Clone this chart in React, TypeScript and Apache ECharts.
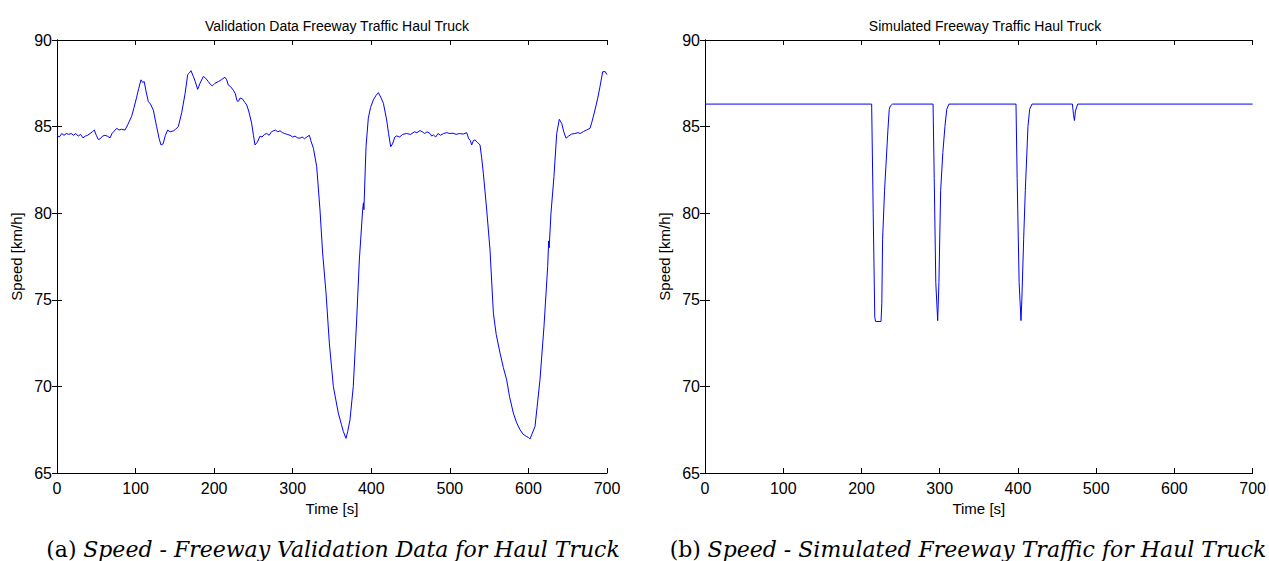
import React, { useEffect, useRef } from "react";
import * as echarts from "echarts";

const xTicks = [0, 100, 200, 300, 400, 500, 600, 700];
const yTicks = [65, 70, 75, 80, 85, 90];

const leftTitle = "Validation Data Freeway Traffic Haul Truck";
const rightTitle = "Simulated Freeway Traffic Haul Truck";
const xName = "Time [s]";
const yName = "Speed [km/h]";
const captionA = ["(a)", "Speed - Freeway Validation Data for Haul Truck"];
const captionB = ["(b)", "Speed - Simulated Freeway Traffic for Haul Truck"];

// Validation data [time s, speed km/h]
const validation: [number, number][] = [
  [0, 84.5], [3, 84.4], [6, 84.6], [9, 84.5], [12, 84.6], [15, 84.55], [18, 84.6], [21, 84.5],
  [24, 84.6], [27, 84.45], [30, 84.55], [33, 84.35], [36, 84.45], [39, 84.5], [42, 84.6], [45, 84.7],
  [47.5, 84.8], [50, 84.5], [52.6, 84.25], [55, 84.3], [58, 84.45], [61, 84.5], [64, 84.45],
  [67.5, 84.35], [70, 84.6], [73, 84.75], [76, 84.9], [79, 84.8], [82, 84.85], [86.5, 84.8],
  [90, 85.1], [95, 85.6], [98, 86.1], [101.4, 86.7], [104, 87.2], [106.9, 87.7], [109, 87.55],
  [111, 87.6], [113.5, 87.0], [116.2, 86.45], [119, 86.3], [122.6, 85.95], [126.8, 85.0],
  [130, 84.3], [132.4, 83.94], [135, 84.0], [138, 84.5], [140.8, 84.8], [144, 84.7], [148, 84.75],
  [151, 84.85], [154.4, 85.0], [158.7, 85.8], [163, 86.9], [166.3, 88.0], [168.5, 88.1],
  [170.5, 88.23], [173.5, 87.9], [176, 87.6], [179, 87.15], [182, 87.5], [186.3, 87.9], [189, 87.8],
  [192.6, 87.6], [195, 87.45], [197.7, 87.35], [201, 87.5], [205.3, 87.6], [209, 87.7],
  [213.8, 87.85], [216, 87.7], [218, 87.4], [221, 87.3], [224.4, 87.1], [227, 86.9], [229, 86.5],
  [230.8, 86.45], [233, 86.65], [236, 86.6], [239, 86.4], [241.4, 86.25], [244, 85.9],
  [247.7, 85.2], [250, 84.5], [252, 83.94], [255, 84.1], [258.4, 84.45], [261, 84.4], [264, 84.55],
  [267, 84.6], [270, 84.5], [273, 84.7], [275.3, 84.75], [278, 84.8], [281, 84.7], [283.8, 84.76],
  [287, 84.65], [290, 84.6], [293, 84.55], [296.6, 84.5], [300, 84.4], [303, 84.45], [306, 84.35],
  [309.3, 84.33], [312, 84.4], [315, 84.3], [318, 84.4], [321.2, 84.5], [323, 84.2],
  [326.3, 83.75], [330.5, 82.7], [334.7, 80.2], [338.1, 77.7], [342.4, 75.4], [346.6, 72.5],
  [351.7, 70], [358, 68.46], [362, 67.8], [364.4, 67.4], [367.8, 67.0], [370, 67.4],
  [372.9, 68.07], [377.1, 70], [381.4, 73.84], [384.8, 77.3], [389, 80.2], [390, 80.6],
  [390.6, 80.2], [393.3, 83.84], [396.2, 85.48], [399, 86.1], [402.6, 86.54], [406, 86.8],
  [409, 86.96], [412, 86.7], [415.4, 86.35], [419.6, 85.38], [422, 84.6], [424.7, 83.84],
  [427, 84.0], [430, 84.4], [432.3, 84.46], [436, 84.4], [440, 84.55], [445, 84.6], [450, 84.55],
  [455, 84.7], [458, 84.65], [462, 84.77], [465, 84.7], [468, 84.6], [471, 84.7], [474.7, 84.6],
  [477, 84.45], [479, 84.52], [482, 84.4], [485, 84.6], [488, 84.5], [492, 84.6], [496, 84.65],
  [500, 84.6], [504, 84.62], [508, 84.55], [512, 84.6], [517.1, 84.57], [521.4, 84.65],
  [524, 84.3], [526, 84.2], [527.8, 83.94], [530, 84.2], [532, 84.23], [535, 84.1],
  [538.4, 83.94], [540.5, 83.2], [542.6, 82.31], [546.9, 80.19], [551.1, 77.88], [555.4, 74.23],
  [559, 73.0], [563.9, 71.92], [568, 71.1], [572.3, 70.38], [576, 69.4], [580.8, 68.46],
  [585, 67.9], [589.3, 67.5], [593, 67.25], [597.8, 67.1], [600, 67.05], [602, 66.96],
  [605, 67.3], [608.4, 67.69], [611, 68.8], [614.7, 70.38], [619.8, 73.46], [624.5, 76.92],
  [625.8, 78.4], [626.4, 78.0], [628.7, 80.0], [632.5, 82.12], [636, 84.6], [639.3, 85.42],
  [642.3, 85.19], [645, 84.7], [647.8, 84.33], [651, 84.45], [655, 84.57], [659, 84.6],
  [663, 84.65], [666, 84.6], [669.9, 84.71], [674, 84.8], [678.4, 84.9], [681, 85.3],
  [684.7, 85.96], [688, 86.6], [691.1, 87.31], [694.5, 88.17], [697.8, 88.17], [700, 88.0],
];

// Simulated data [time s, speed km/h]
const simulated: [number, number][] = [
  [0, 86.3], [213, 86.3], [215, 80], [217, 74], [218, 73.75], [225, 73.75], [226, 74.8],
  [227, 78.5], [229.5, 81.3], [233.8, 84.8], [235.5, 86.0], [237, 86.2], [239.7, 86.3],
  [291.5, 86.3], [293, 82], [295, 76], [297.4, 73.8], [299, 76], [301.2, 81.3], [304, 83.5],
  [306.7, 85.0], [309, 86.0], [311.8, 86.3], [397.5, 86.3], [399, 82], [401.5, 76],
  [403.9, 73.8], [405, 75], [407.3, 78.5], [409.4, 81.3], [412.8, 85.0], [415, 86.0],
  [417.9, 86.3], [469.6, 86.3], [471, 85.7], [472.2, 85.35], [473.5, 85.9], [476.4, 86.3],
  [700, 86.3],
];

const FONT = "'Liberation Sans', Arial, Helvetica, sans-serif";
const SERIF = "'DejaVu Serif', 'Liberation Serif', serif";

export default function App() {
  const ref = useRef<HTMLDivElement>(null);
  useEffect(() => {
    if (!ref.current) return;
    const chart = echarts.init(ref.current, undefined, { renderer: "svg" });
    const lineStyle = { color: "#000", width: 1 };
    const mkX = (grid: number, bottom: boolean) => ({
      type: "value",
      gridIndex: grid,
      position: bottom ? "bottom" : "top",
      min: xTicks[0],
      max: xTicks[xTicks.length - 1],
      interval: xTicks[1] - xTicks[0],
      name: bottom ? xName : "",
      nameLocation: "middle",
      nameGap: 27,
      nameTextStyle: { color: "#000", fontSize: 15, fontFamily: FONT },
      axisLine: { show: true, lineStyle },
      axisTick: { show: true, inside: true, length: 5, lineStyle },
      axisLabel: {
        show: bottom,
        color: "#000",
        fontSize: 16,
        fontFamily: FONT,
        margin: 7,
      },
      splitLine: { show: false },
    });
    const mkY = (grid: number, left: boolean) => ({
      type: "value",
      gridIndex: grid,
      position: left ? "left" : "right",
      min: yTicks[0],
      max: yTicks[yTicks.length - 1],
      interval: yTicks[1] - yTicks[0],
      name: left ? yName : "",
      nameLocation: "middle",
      nameGap: 33,
      nameRotate: 90,
      nameTextStyle: { color: "#000", fontSize: 15, fontFamily: FONT },
      axisLine: { show: true, lineStyle },
      axisTick: { show: true, inside: true, length: 5, lineStyle },
      axisLabel: {
        show: left,
        color: "#000",
        fontSize: 16,
        fontFamily: FONT,
        margin: 5,
      },
      splitLine: { show: false },
    });
    const caption = (c: string[], cx: number) => ({
      type: "text",
      x: cx,
      y: 549,
      style: {
        text: `{a|${c[0]}}  {b|${c[1]}}`,
        align: "center",
        verticalAlign: "middle",
        fill: "#000",
        rich: {
          a: { fontFamily: SERIF, fontSize: 22, fill: "#000" },
          b: { fontFamily: SERIF, fontSize: 22, fontStyle: "italic", fill: "#000" },
        },
      },
    });
    chart.setOption({
      animation: false,
      backgroundColor: "#fff",
      title: [
        {
          text: leftTitle,
          left: 332,
          top: 14,
          textAlign: "center",
          textStyle: { fontSize: 14, fontWeight: "normal", color: "#000", fontFamily: FONT },
        },
        {
          text: rightTitle,
          left: 980,
          top: 14,
          textAlign: "center",
          textStyle: { fontSize: 14, fontWeight: "normal", color: "#000", fontFamily: FONT },
        },
      ],
      grid: [
        { left: 57, top: 40, width: 550, height: 433 },
        { left: 705, top: 40, width: 551, height: 433 },
      ],
      xAxis: [mkX(0, true), mkX(0, false), mkX(1, true), mkX(1, false)],
      yAxis: [mkY(0, true), mkY(0, false), mkY(1, true), mkY(1, false)],
      series: [
        {
          type: "line",
          xAxisIndex: 0,
          yAxisIndex: 0,
          data: validation,
          showSymbol: false,
          lineStyle: { color: "#0000ff", width: 1 },
        },
        {
          type: "line",
          xAxisIndex: 2,
          yAxisIndex: 2,
          data: simulated,
          showSymbol: false,
          lineStyle: { color: "#0000ff", width: 1 },
        },
      ],
      graphic: [caption(captionA, 333), caption(captionB, 968)],
    });
    return () => chart.dispose();
  }, []);
  return (
    <div
      ref={ref}
      style={{ position: "fixed", left: 0, top: 0, width: 1269, height: 561, background: "#fff" }}
    />
  );
}
